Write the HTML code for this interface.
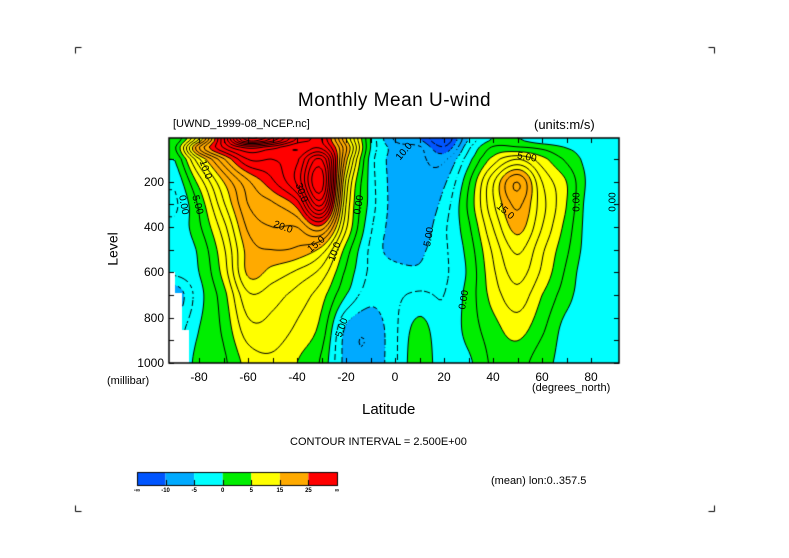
<!DOCTYPE html>
<html><head><meta charset="utf-8"><style>
body{margin:0;background:#fff;width:789px;height:558px;overflow:hidden;position:relative;font-family:"Liberation Sans",sans-serif;color:#000}
.t{position:absolute;white-space:nowrap;line-height:1}
canvas{position:absolute;left:0;top:0}
</style></head><body>
<canvas id="cv" width="789" height="558"></canvas>
<div class="t" style="left:0;width:789px;text-align:center;top:91px;font-size:19px;letter-spacing:0.5px">Monthly Mean U-wind</div>
<div class="t" style="left:173px;top:119px;font-size:11px">[UWND_1999-08_NCEP.nc]</div>
<div class="t" style="left:534px;top:118px;font-size:13px">(units:m/s)</div>
<div class="t" style="left:96px;top:242px;font-size:14px;transform:rotate(-90deg)">Level</div>
<div class="t" style="left:107px;top:376px;font-size:11px">(millibar)</div>
<div class="t" style="left:532px;top:383px;font-size:11px">(degrees_north)</div>
<div class="t" style="left:362px;top:402px;font-size:15px">Latitude</div>
<div class="t" style="left:290px;top:437px;font-size:11px">CONTOUR INTERVAL = 2.500E+00</div>
<div class="t" style="left:491px;top:476px;font-size:11px">(mean) lon:0..357.5</div>
<div id="labels"></div>
<script>
const lats=[-90,-80,-70,-60,-50,-40,-30,-20,-10,0,10,20,30,40,50,60,70,80,90];
const levels=[10,50,100,200,300,400,500,600,700,850,1000];
const u10 =[0,12,32,50,45,35,30,15,0,-8,-10,-15,-5,0,0,-2,-2,-2,-2];
const u50 =[2,20,30,35,33,30,32,18,0,-6,-7,-12,-3,3,3,2,0,-1,-1];
const u100=[0,12,22,30,30,32,40,16,-1,-6,-7,-8,-1,6,10,6,2,-1,-1];
const u200=[-2,6,15,22,27,33,44,12,-1,-6,-7,-5.5,2,12,20,10,5,-1,-1];
const u300=[-3,3,12,20,22,26,38,10,-1,-6,-7,-4,3,12,18,11,5,-1.5,-1];
const u400=[-2,2,9,18,20,20,24,8,-2,-6,-6.5,-3,2,10,16,10,4,-1.5,-1];
const u500=[-2,0.5,7,16,17.5,17,14,4,-3,-6,-5.5,-3,1,8,13,8,3,-1.5,-1];
const u600=[-2,0,6,15.5,14,12,9,2,-3,-4,-4.5,-3,0.5,7,11,7,2,-2,-1];
const u700=[-7,-1,4,12,11,9,6,0,-4,-3,-2,-2.5,1,6,9,5,1,-2,-1];
const u850=[-4,0,3,9,9,7,4,-5.5,-7,-3,1,-2,1,4,6,3,-1,-2,-1];
const u1000=[-3,1,2,6,7,5,2,-6,-7,-3,2,-2,-0.5,3,3.5,1,-1,-2,-1];
const field=[u10,u50,u100,u200,u300,u400,u500,u600,u700,u850,u1000];
const yTicks=[200,400,600,800,1000];
const xTicks=[-80,-60,-40,-20,0,20,40,60,80];
const cbLabels=["-∞","-10","-5","0","5","15","25","∞"];
const cbBounds=[-1e9,-10,-5,0,5,15,25,1e9];
const cbColors=["#0055ff","#00aaff","#00ffff","#00ee00","#ffff00","#ffaa00","#ff0000"];

const X0=169,X1=619,Y0=138,Y1=363;
const xs=lat=>395+lat*2.45;
const ys=p=>363-(1000-p)*0.2265;
const cv=document.getElementById('cv'),c=cv.getContext('2d');
function cr(p0,p1,p2,p3,t){return 0.5*((2*p1)+(-p0+p2)*t+(2*p0-5*p1+4*p2-p3)*t*t+(-p0+3*p1-3*p2+p3)*t*t*t);}
function fracIdx(arr,pos){
  if(pos<=arr[0])return 0; const n=arr.length;
  if(pos>=arr[n-1])return n-1;
  for(let i=0;i<n-1;i++)if(pos<=arr[i+1])return i+(pos-arr[i])/(arr[i+1]-arr[i]);
}
const colPx=lats.map(xs),rowPx=levels.map(ys);
function g(r,ci){r=Math.max(0,Math.min(levels.length-1,r));ci=Math.max(0,Math.min(lats.length-1,ci));return field[r][ci];}
function val(x,y){
  const fc=fracIdx(colPx,x),fr=fracIdx(rowPx,y);
  const ci=Math.min(Math.floor(fc),lats.length-2),ri=Math.min(Math.floor(fr),levels.length-2);
  const tc=fc-ci,tr=fr-ri;const rows=[];
  for(let k=-1;k<=2;k++){const r=ri+k;rows.push(cr(g(r,ci-1),g(r,ci),g(r,ci+1),g(r,ci+2),tc));}
  return cr(rows[0],rows[1],rows[2],rows[3],tr);
}
const W=X1-X0,H=Y1-Y0;
const img=c.createImageData(W,H);
const rgb=cbColors.map(h=>[parseInt(h.substr(1,2),16),parseInt(h.substr(3,2),16),parseInt(h.substr(5,2),16)]);
for(let j=0;j<H;j++)for(let i=0;i<W;i++){
  const v=val(X0+i+0.5,Y0+j+0.5);let k=6;for(let q=0;q<7;q++)if(v<cbBounds[q+1]){k=q;break;}
  const o=(j*W+i)*4;img.data[o]=rgb[k][0];img.data[o+1]=rgb[k][1];img.data[o+2]=rgb[k][2];img.data[o+3]=255;
}
c.putImageData(img,X0,Y0);
const S=3,nx=Math.ceil(W/S),ny=Math.ceil(H/S);const G=[];
for(let j=0;j<=ny;j++){G.push([]);for(let i=0;i<=nx;i++)G[j].push(val(X0+Math.min(i*S,W),Y0+Math.min(j*S,H)));}
c.strokeStyle="#000";c.lineWidth=1;
function contour(lv,dashed){
  c.beginPath();
  for(let j=0;j<ny;j++)for(let i=0;i<nx;i++){
    const a=G[j][i],b=G[j][i+1],d=G[j+1][i],e=G[j+1][i+1];
    const px=X0+i*S,py=Y0+j*S;const pts=[];
    if((a<lv)!=(b<lv))pts.push([px+S*(lv-a)/(b-a),py]);
    if((b<lv)!=(e<lv))pts.push([px+S,py+S*(lv-b)/(e-b)]);
    if((d<lv)!=(e<lv))pts.push([px+S*(lv-d)/(e-d),py+S]);
    if((a<lv)!=(d<lv))pts.push([px,py+S*(lv-a)/(d-a)]);
    if(pts.length>=2){ if(dashed&&((i+j)%3==0))continue;
      c.moveTo(pts[0][0],pts[0][1]);c.lineTo(pts[1][0],pts[1][1]);
      if(pts.length==4){c.moveTo(pts[2][0],pts[2][1]);c.lineTo(pts[3][0],pts[3][1]);}}
  }
  c.stroke();
}
for(let lv=-20;lv<=60;lv+=2.5){contour(Math.abs(lv)<1e-6?0:lv,lv<-1e-6);}
c.fillStyle="#fff";c.beginPath();
c.moveTo(X0,272);c.lineTo(175,272);c.lineTo(175,293);c.lineTo(182,293);c.lineTo(182,330);c.lineTo(189,330);c.lineTo(189,Y1);c.lineTo(X0,Y1);c.closePath();c.fill();
c.strokeStyle="#000";c.lineWidth=1.5;c.strokeRect(X0,Y0,W,H);c.lineWidth=1;
c.beginPath();
for(let p=100;p<=1000;p+=100){const y=Math.round(ys(p))+0.5;c.moveTo(X0,y);c.lineTo(X0+5,y);c.moveTo(X1,y);c.lineTo(X1-5,y);}
for(let l=-80;l<=80;l+=10){const x=Math.round(xs(l))+0.5;c.moveTo(x,Y1);c.lineTo(x,Y1-5);c.moveTo(x,Y0);c.lineTo(x,Y0+5);}
[[75,47,1,1],[714,47,-1,1],[75,511,1,-1],[714,511,-1,-1]].forEach(([x,y,dx,dy])=>{c.moveTo(x+0.5,y+0.5+dy*6);c.lineTo(x+0.5,y+0.5);c.lineTo(x+0.5+dx*6,y+0.5);});
c.stroke();
const cbx=137,cbw=200/7;
cbColors.forEach((col,i)=>{c.fillStyle=col;c.fillRect(cbx+i*cbw,472,cbw,14);});
c.strokeStyle="#000";c.strokeRect(cbx+0.5,472.5,200,13);
c.beginPath();for(let i=1;i<7;i++){const x=Math.round(cbx+i*cbw)+0.5;c.moveTo(x,480);c.lineTo(x,486);}c.stroke();
const L=document.getElementById('labels');
function addT(txt,x,y,fs,name,extra){const d=document.createElement('div');d.className='t';d.textContent=txt;d.style.left=x+'px';d.style.top=y+'px';d.style.fontSize=fs+'px';if(extra)d.style.cssText+=extra;


L.appendChild(d);}
yTicks.forEach(p=>addT(String(p),130,ys(p)-6,12,'y-tick-label',';width:34px;text-align:right'));
xTicks.forEach(l=>addT(String(l),xs(l)-20,371,12,'x-tick-label',';width:40px;text-align:center'));
cbLabels.forEach((t,i)=>addT(t,cbx+i*cbw-10,488,6,'colorbar-label',';width:20px;text-align:center;font-weight:bold'));
[["10.0",205,170,70],["5.00",197,205,75],["0.00",183,205,80],["30.0",301,193,70],["20.0",283,228,20],["15.0",317,245,-40],["10.0",336,252,-70],["0.00",360,205,-80],["10.0",405,152,-50],["5.00",430,237,-80],["5.00",343,328,-70],["0.00",465,300,-80],["15.0",505,212,40],["5.00",527,158,10],["0.00",578,202,-90],["0.00",614,202,-90]].forEach(a=>addT(a[0],a[1]-10,a[2]-5,10,'contour-label',';background:transparent;transform:rotate('+a[3]+'deg)'));
</script>
</body></html>
